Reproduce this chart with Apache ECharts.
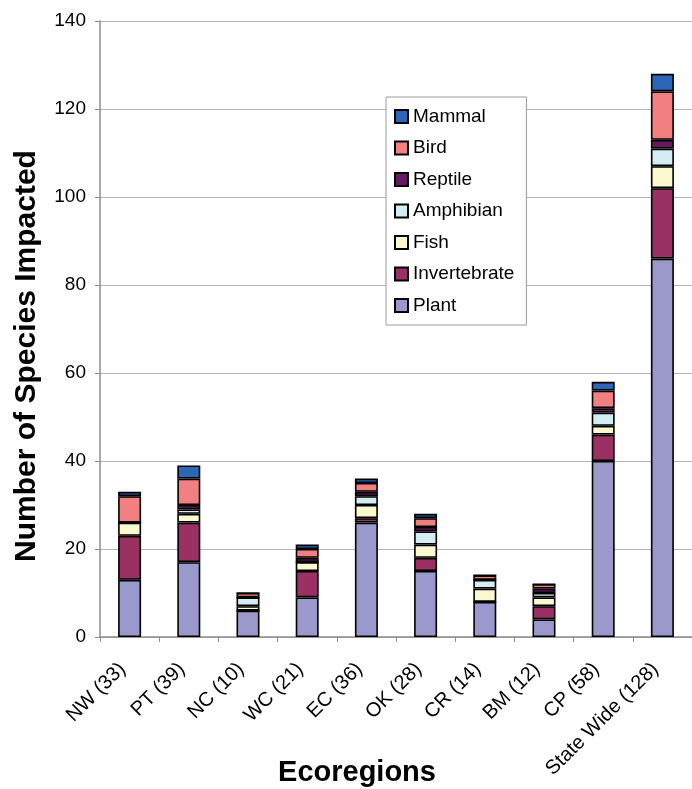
<!DOCTYPE html>
<html>
<head>
<meta charset="utf-8">
<script src="https://cdn.jsdelivr.net/npm/echarts@6/dist/echarts.min.js"></script>
<style>
  html, body { margin: 0; padding: 0; background: #ffffff; }
  #chart { width: 692px; height: 789px; }
</style>
</head>
<body>
<div id="chart"></div>
<script>
// Ecoregions with their total species counts
const categories = ['NW (33)', 'PT (39)', 'NC (10)', 'WC (21)', 'EC (36)', 'OK (28)', 'CR (14)', 'BM (12)', 'CP (58)', 'State Wide (128)'];

// Species impacted per taxonomic group, one value per ecoregion
const plant        = [13, 17, 6,  9, 26, 15,  8, 4, 40, 86];
const invertebrate = [10,  9, 0,  6,  1,  3,  0, 3,  6, 16];
const fish         = [ 3,  2, 1,  2,  3,  3,  3, 2,  2,  5];
const amphibian    = [ 0,  1, 2,  0,  2,  3,  2, 1,  3,  4];
const reptile      = [ 0,  1, 0,  1,  1,  1,  0, 1,  1,  2];
const bird         = [ 6,  6, 1,  2,  2,  2,  1, 1,  4, 11];
const mammal       = [ 1,  3, 0,  1,  1,  1,  0, 0,  2,  4];

// Value axis ticks
const yTicks = [0, 20, 40, 60, 80, 100, 120, 140];

const groups = [
  { name: 'Plant',        data: plant,        color: '#9b98cc' },
  { name: 'Invertebrate', data: invertebrate, color: '#9b3163' },
  { name: 'Fish',         data: fish,         color: '#fcf9cf' },
  { name: 'Amphibian',    data: amphibian,    color: '#d3edf3' },
  { name: 'Reptile',      data: reptile,      color: '#661a62' },
  { name: 'Bird',         data: bird,         color: '#f28080' },
  { name: 'Mammal',       data: mammal,       color: '#2c66b6' }
];

const FONT = '"Liberation Sans", Arial, sans-serif';

const chart = echarts.init(document.getElementById('chart'), null, { renderer: 'canvas' });

chart.setOption({
  backgroundColor: '#ffffff',
  animation: false,
  textStyle: { fontFamily: FONT, color: '#000' },
  grid: { left: 100, top: 21, width: 600, height: 616, containLabel: false },
  legend: {
    orient: 'vertical',
    left: 386,
    top: 97,
    data: groups.map(g => g.name).reverse(),
    icon: 'rect',
    itemWidth: 13,
    itemHeight: 13,
    itemGap: 12.5,
    padding: [10, 12, 10, 8],
    borderColor: '#9a9a9a',
    borderWidth: 1,
    backgroundColor: '#ffffff',
    textStyle: { fontFamily: FONT, fontSize: 19, color: '#000' }
  },
  xAxis: {
    type: 'category',
    data: categories,
    axisLine: { lineStyle: { color: '#8c8c8c', width: 1.5 } },
    axisTick: { show: true, length: 5, lineStyle: { color: '#8c8c8c' } },
    axisLabel: {
      rotate: 45,
      interval: 0,
      margin: 22,
      padding: [0, 10, 0, 0],
      fontFamily: FONT,
      fontSize: 20,
      color: '#000'
    }
  },
  yAxis: {
    type: 'value',
    min: yTicks[0],
    max: yTicks[yTicks.length - 1],
    interval: yTicks[1] - yTicks[0],
    axisLine: { show: true, lineStyle: { color: '#8c8c8c', width: 1.5 } },
    axisTick: { show: true, length: 5, lineStyle: { color: '#8c8c8c' } },
    axisLabel: { margin: 14, fontFamily: FONT, fontSize: 19, color: '#000' },
    splitLine: { show: true, lineStyle: { color: '#b4b4b4', width: 1.2 } }
  },
  series: groups.map(g => ({
    name: g.name,
    type: 'bar',
    stack: 'species',
    data: g.data,
    barWidth: 23,
    itemStyle: { color: g.color, borderColor: '#000', borderWidth: 1.6 }
  })),
  graphic: [
    {
      type: 'text',
      x: 27,
      y: 356,
      rotation: Math.PI / 2,
      style: {
        text: 'Number of Species Impacted',
        font: 'bold 30px ' + FONT,
        fill: '#000',
        textAlign: 'center',
        textVerticalAlign: 'middle'
      }
    },
    {
      type: 'text',
      x: 357,
      y: 773,
      style: {
        text: 'Ecoregions',
        font: 'bold 29px ' + FONT,
        fill: '#000',
        textAlign: 'center',
        textVerticalAlign: 'middle'
      }
    }
  ]
});
</script>
</body>
</html>
